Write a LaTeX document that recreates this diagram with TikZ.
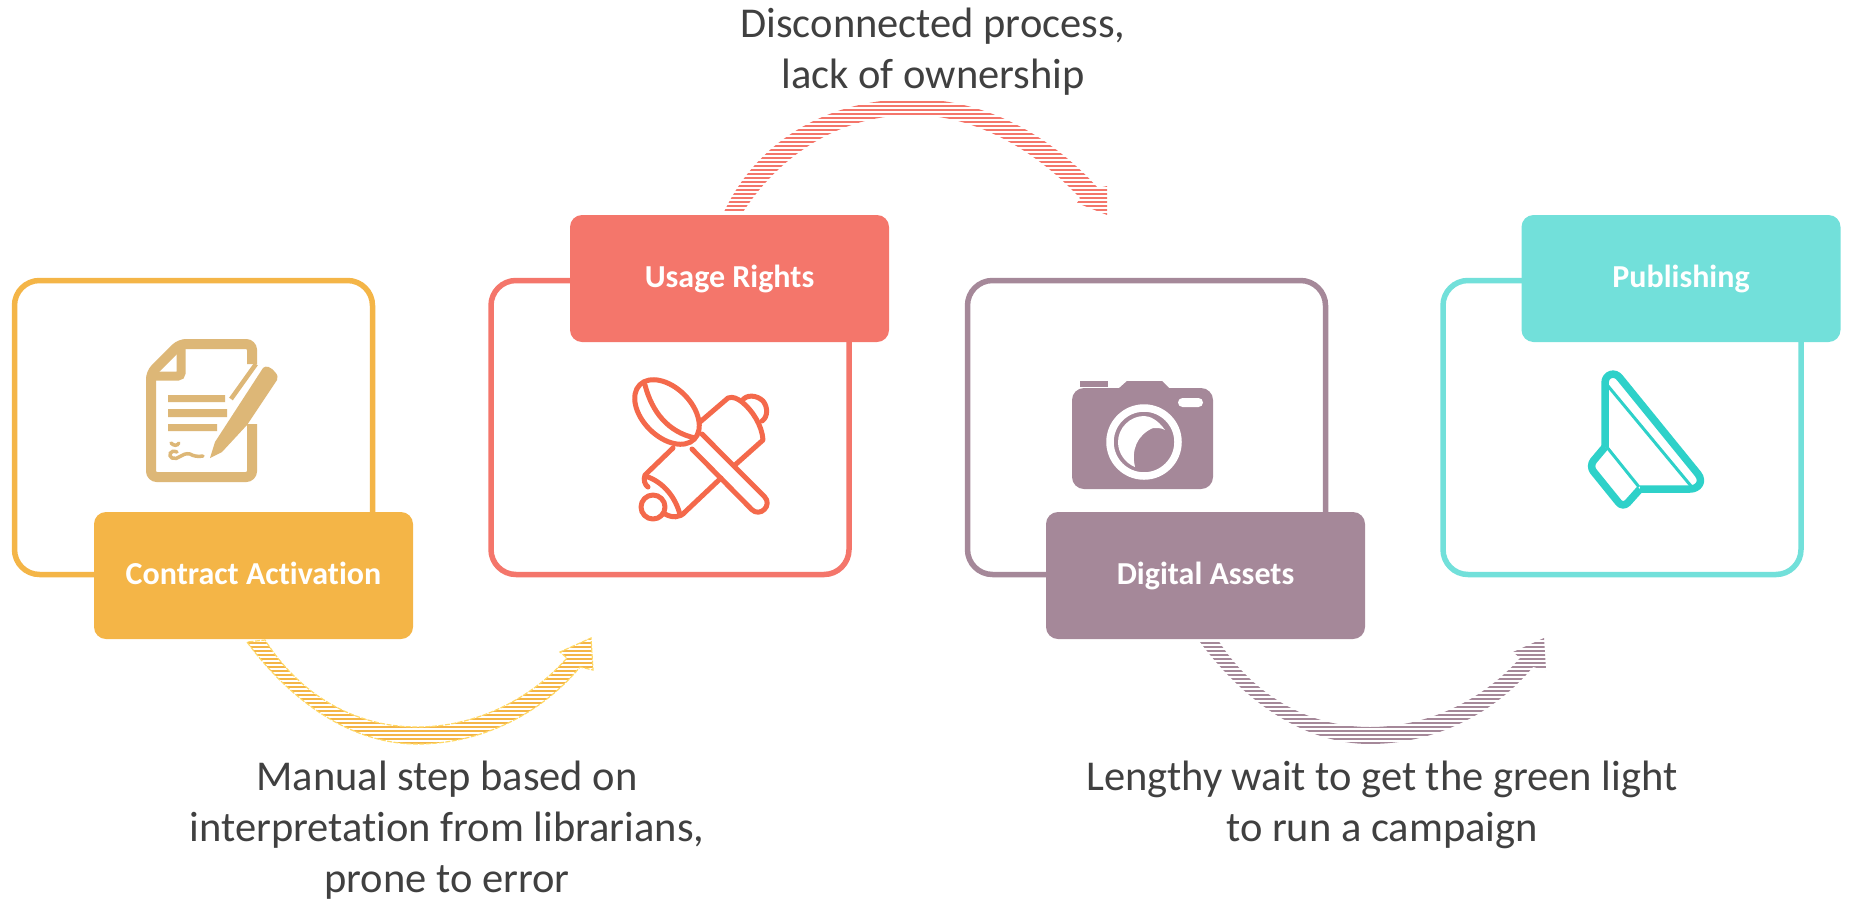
\documentclass[tikz,border=0pt]{standalone}
\usepackage{fontspec}
\setmainfont[Ligatures=NoCommon]{Carlito}
\definecolor{cYel}{HTML}{F4B547}
\definecolor{cCor}{HTML}{F4766B}
\definecolor{cPur}{HTML}{A58899}
\definecolor{cTea}{HTML}{72E0DA}
\definecolor{cDoc}{HTML}{DDB777}
\definecolor{cSpo}{HTML}{F4694B}
\definecolor{cMeg}{HTML}{2ED1C9}
\definecolor{cTxt}{HTML}{404040}
\definecolor{cDash}{HTML}{FFD966}
\tikzset{
  framebox/.style={draw=#1,line width=5.5pt,rounded corners=25pt,fill=white,minimum width=358pt,minimum height=294pt,inner sep=0pt},
  tagbox/.style={fill=#1,rounded corners=12pt,minimum width=319pt,minimum height=127pt,inner sep=0pt,text=white,font=\fontsize{32}{38}\selectfont\bfseries,text height=24pt,text depth=7pt},
  caption/.style={text=cTxt,align=center,inner sep=0pt,font=\fontsize{42.5}{51}\selectfont},
  hatchline/.style={line width=2.1pt},
}
\newcommand{\hatchfill}[3]{% colour, path, y-start
  \begin{scope}
    \clip #2;
    \foreach \k in {0,...,40}{
      \draw[#1,hatchline] (0,#3+4*\k) -- (1851,#3+4*\k);
    }
  \end{scope}}
\newcommand{\toparc}{(724,212) .. controls (760,135) and (835,99) .. (913,99) .. controls (985,99) and (1050,135) .. (1098,188) -- (1107,186) -- (1107,215) -- (1077,203) -- (1080,198) .. controls (1035,150) and (975,115) .. (913,115) .. controls (840,115) and (780,155) .. (743,212) -- cycle}
\newcommand{\botarc}{(247,642) .. controls (290,700) and (350,744) .. (417,744) .. controls (480,744) and (540,715) .. (580,667) -- (593,670) -- (591,638) -- (560,652) -- (567,658) .. controls (530,700) and (475,727) .. (417,727) .. controls (355,727) and (300,695) .. (265,640) -- cycle}
\begin{document}
\begin{tikzpicture}[x=1pt,y=-1pt]
\useasboundingbox (0,0) rectangle (1851,900);
% frames
\node[framebox=cYel] (f1) at (193.5,427.5) {};
\node[framebox=cCor] (f2) at (670,427.5) {};
\node[framebox=cPur] (f3) at (1146.5,427.5) {};
\node[framebox=cTea] (f4) at (1622,427.5) {};
% tags
\node[tagbox=cYel] (t1) at (253.5,575.5) {Contract Activation};
\node[tagbox=cCor] (t2) at (729.5,278.5) {Usage Rights};
\node[tagbox=cPur] (t3) at (1205.5,575.5) {Digital Assets};
\node[tagbox=cTea] (t4) at (1681,278.5) {Publishing};
% hatched arrows
\hatchfill{cCor}{\toparc}{98}
\hatchfill{cYel}{\botarc}{639}
\draw[cDash,line width=1.2pt,dash pattern=on 5pt off 1.5pt] \botarc;
\begin{scope}[xshift=953pt]
\hatchfill{cPur}{\botarc}{639}
\end{scope}
% captions
\node[caption] (c1) at (933,51.5) {Disconnected process,\\lack of ownership};
\node[caption] (c2) at (447,830) {Manual step based on\\interpretation from librarians,\\prone to error};
\node[caption] (c3) at (1382,804.5) {Lengthy wait to get the green light\\to run a campaign};
% document icon
\draw[cDoc,line width=10pt,rounded corners=6pt] (252,364) -- (252,344) -- (180,344) -- (151,373) -- (151,477) -- (252,477) -- (252,424);
\draw[cDoc,line width=9pt,rounded corners=3pt] (181,346) -- (181,376) -- (153,376);
\fill[cDoc] (168,395) rectangle (225,402) (168,409) rectangle (227,417) (168,424) rectangle (217,431);
\draw[cDoc,line width=3.5pt,line cap=round] (171,443) .. controls (174,446) and (177,446) .. (179,443);
\draw[cDoc,line width=3.5pt,line cap=round] (177,452) .. controls (170,449) and (168,456) .. (172,458) .. controls (178,461) and (182,452) .. (190,454) .. controls (193,456) and (198,457) .. (203,456);
\fill[cDoc] (210,458) -- (215,442) -- (263,368) .. controls (266,365) and (271,367) .. (275,372) .. controls (278,375) and (278,378) .. (277,380) -- (247,425) -- (222,452) -- cycle;
\draw[cDoc,line width=4.5pt] (231,399) -- (256,364);
% spoon and rolling-pin icon
\begin{scope}[cSpo,line width=5pt,line cap=round,line join=round]
\draw (667,412) ellipse[x radius=38.5,y radius=24.5,rotate=-45];
\draw (645,385) .. controls (652,412) and (668,432) .. (695,438);
\draw (702,434) -- (764.4,496.6) .. controls (772.9,505.1) and (760.1,517.9) .. (751.6,509.4) -- (692,449);
\draw (700,422) -- (728,398) .. controls (733,396) and (738,399) .. (742,402) .. controls (752,410) and (762,425) .. (763,440) -- (735,465);
\draw (742,401) .. controls (746,394) and (757,395) .. (763,401) .. controls (768,407) and (768,417) .. (762,421);
\draw (673,448) -- (645,475) .. controls (643,480) and (645,485) .. (648,487);
\draw (648,477) .. controls (664,483) and (676,498) .. (680,515);
\draw (665,514) .. controls (672,518) and (680,518) .. (685,512) -- (721,478);
\draw (653,507) circle[radius=12];
\end{scope}
% camera icon
\fill[cPur,rounded corners=12pt] (1072,388) rectangle (1213,489);
\fill[cPur] (1118,389) -- (1127,381) -- (1162,381) -- (1170,389) -- cycle;
\fill[cPur] (1080,381) rectangle (1108,387);
\fill[white,rounded corners=4.5pt] (1178,398) rectangle (1203,407);
\draw[white,line width=7.5pt] (1144,442) circle[radius=34];
\fill[white] (1165,430) .. controls (1158,420) and (1150,416) .. (1144,416) .. controls (1130,416) and (1118,428) .. (1118,442) .. controls (1118,453) and (1125,463) .. (1135,467) .. controls (1131,450) and (1137,435) .. (1153,428) .. controls (1158,428) and (1162,428) .. (1165,430) -- cycle;
% megaphone icon
\begin{scope}[cMeg,line join=round]
\draw[line width=7.5pt] (1605,447) -- (1605,383) .. controls (1605,374) and (1615,371) .. (1620,378) -- (1698,474) .. controls (1704,482) and (1698,489) .. (1690,489) -- (1640,489);
\draw[line width=7.5pt,rounded corners=7pt] (1605,447) -- (1589,466) -- (1623,508) -- (1640,489);
\draw[line width=3pt] (1608,386) -- (1691,486);
\draw[line width=3pt] (1606,446) -- (1639,487);
\end{scope}
\end{tikzpicture}
\end{document}
